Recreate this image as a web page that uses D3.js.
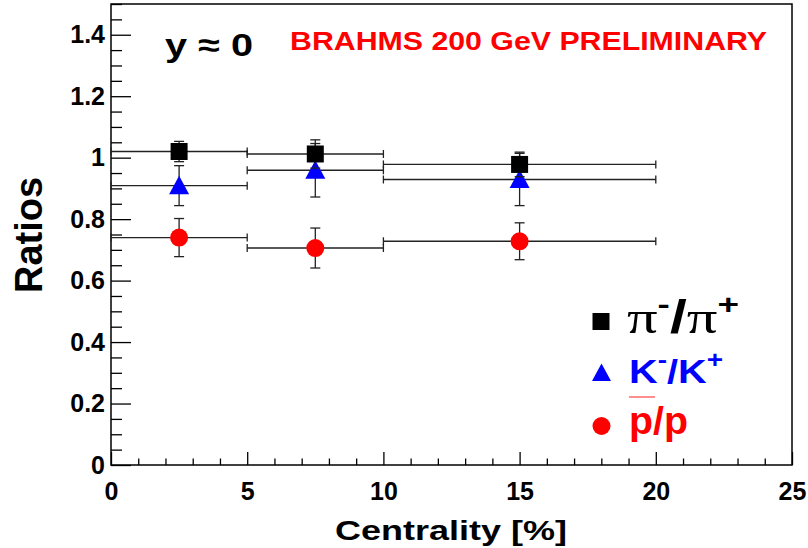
<!DOCTYPE html>
<html>
<head>
<meta charset="utf-8">
<script src="https://cdn.jsdelivr.net/npm/d3@7"></script>
<style>
  body { margin: 0; background: #fff; }
  text { font-family: "Liberation Sans", Arial, sans-serif; font-weight: bold; }
</style>
</head>
<body>
<svg id="chart" width="808" height="548"></svg>
<script>
// centrality bins
var centrality = [2.5, 7.5, 15];
var binLow = [0, 5, 10];
var binHigh = [5, 10, 20];

// ratios
var piRatio = [1.02, 1.012, 0.978];
var piErr = [0.033, 0.046, 0.04];
var kRatio = [0.909, 0.959, 0.929];
var kErr = [0.065, 0.087, 0.085];
var pRatio = [0.740, 0.706, 0.728];
var pErr = [0.062, 0.065, 0.06];

var yMajor = [0, 0.2, 0.4, 0.6, 0.8, 1, 1.2, 1.4];
var xMajor = [0, 5, 10, 15, 20, 25];

var padL = 111, padR = 792, padT = 4, padB = 465;

var x = d3.scaleLinear().domain([0, 25]).range([padL, padR]);
var y = d3.scaleLinear().domain([0, 1.5]).range([padB, padT]);

var svg = d3.select("#chart");

// minor ticks
var yMinor = d3.range(0, 1.501, 0.05).filter(function(v){ return Math.abs(v*5 - Math.round(v*5)) > 1e-6; });
var xMinor = d3.range(0, 25.01, 1).filter(function(v){ return v % 5 != 0; });

svg.append("g").attr("transform", "translate(" + padL + ",0)")
    .call(d3.axisLeft(y).tickValues(yMinor).tickSize(-11).tickFormat(""));
svg.append("g").attr("transform", "translate(0," + padB + ")")
    .call(d3.axisBottom(x).tickValues(xMinor).tickSize(-6.5).tickFormat(""));

var yAxis = svg.append("g").attr("transform", "translate(" + padL + ",0)")
    .call(d3.axisLeft(y).tickValues(yMajor).tickSize(-20).tickPadding(6)
      .tickFormat(function(d){ return d == 0 || d == 1 ? d3.format("d")(d) : d3.format(".1f")(d); }));
var xAxis = svg.append("g").attr("transform", "translate(0," + padB + ")")
    .call(d3.axisBottom(x).tickValues(xMajor).tickSize(-13).tickPadding(17).tickFormat(d3.format("d")));

svg.selectAll(".domain").remove();
svg.selectAll(".tick line").attr("stroke", "#000").attr("stroke-width", 1.3);
svg.selectAll(".tick text").attr("font-size", 25).attr("font-weight", "bold")
    .attr("font-family", "Liberation Sans").attr("fill", "#000");

// frame
svg.append("rect").attr("x", padL).attr("y", padT).attr("width", padR - padL).attr("height", padB - padT)
    .attr("fill", "none").attr("stroke", "#000").attr("stroke-width", 1.5);

// axis titles
svg.append("text").attr("x", 335).attr("y", 540)
    .attr("font-size", 28).attr("textLength", 232).attr("lengthAdjust", "spacingAndGlyphs").text("Centrality [%]");
svg.append("text").attr("transform", "translate(41.5,293) rotate(-90)")
    .attr("font-size", 39).attr("textLength", 116).attr("lengthAdjust", "spacingAndGlyphs").text("Ratios");

// labels in the plot
svg.append("text").attr("x", 165).attr("y", 56).attr("font-size", 32)
    .attr("textLength", 88).attr("lengthAdjust", "spacingAndGlyphs").text("y \u2248 0");
svg.append("text").attr("x", 290).attr("y", 50).attr("font-size", 26).attr("fill", "#ff0000")
    .attr("textLength", 477).attr("lengthAdjust", "spacingAndGlyphs").text("BRAHMS 200 GeV PRELIMINARY");

function drawSeries(vals, errs, color, shape) {
  var g = svg.append("g");
  centrality.forEach(function(c, i) {
    var yy = y(vals[i]);
    // horizontal bin width
    g.append("line").attr("x1", x(binLow[i])).attr("x2", x(binHigh[i])).attr("y1", yy).attr("y2", yy)
      .attr("stroke", "#222").attr("stroke-width", 1.3);
    [binLow[i], binHigh[i]].forEach(function(b) {
      g.append("line").attr("x1", x(b)).attr("x2", x(b)).attr("y1", yy - 4).attr("y2", yy + 4)
        .attr("stroke", "#222").attr("stroke-width", 1.3);
    });
    // vertical error
    g.append("line").attr("x1", x(c)).attr("x2", x(c)).attr("y1", y(vals[i] - errs[i])).attr("y2", y(vals[i] + errs[i]))
      .attr("stroke", "#222").attr("stroke-width", 1.3);
    [vals[i] - errs[i], vals[i] + errs[i]].forEach(function(v) {
      g.append("line").attr("x1", x(c) - 5).attr("x2", x(c) + 5).attr("y1", y(v)).attr("y2", y(v))
        .attr("stroke", "#222").attr("stroke-width", 1.3);
    });
  });
  g.selectAll("path.mark").data(centrality).enter().append("path").attr("class", "mark")
    .attr("transform", function(d, i){ return "translate(" + x(d) + "," + y(vals[i]) + ")"; })
    .attr("d", shape).attr("fill", color);
}

var squarePath = "M-8.5,-8.5H8.5V8.5H-8.5Z";
var trianglePath = "M0,-10L10,8.5L-10,8.5Z";
var circlePath = d3.symbol(d3.symbolCircle, Math.PI * 9 * 9)();

drawSeries(kRatio, kErr, "#0000ff", trianglePath);
drawSeries(piRatio, piErr, "#000000", squarePath);
drawSeries(pRatio, pErr, "#ff0000", circlePath);

// legend
var leg = svg.append("g");
leg.append("path").attr("transform", "translate(601,321.5)").attr("d", squarePath).attr("fill", "#000");
leg.append("path").attr("transform", "translate(601.5,373) scale(0.95)").attr("d", trianglePath).attr("fill", "#0000ff");
leg.append("path").attr("transform", "translate(601.5,426)").attr("d", circlePath).attr("fill", "#ff0000");

var t1 = leg.append("text").attr("x", 627).attr("y", 333).attr("font-size", 46)
    .attr("textLength", 112).attr("lengthAdjust", "spacingAndGlyphs");
t1.append("tspan").attr("font-family", "Liberation Serif").attr("font-weight", "normal").text("\u03c0");
t1.append("tspan").attr("font-size", 28).attr("dy", -19).text("-");
t1.append("tspan").attr("dy", 19).text("/");
t1.append("tspan").attr("font-family", "Liberation Serif").attr("font-weight", "normal").text("\u03c0");
t1.append("tspan").attr("font-size", 28).attr("dy", -19).text("+");

var t2 = leg.append("text").attr("x", 629).attr("y", 383).attr("font-size", 34).attr("fill", "#0000ff")
    .attr("textLength", 94).attr("lengthAdjust", "spacingAndGlyphs");
t2.append("tspan").text("K");
t2.append("tspan").attr("font-size", 24).attr("dy", -15).text("-");
t2.append("tspan").attr("dy", 15).text("/K");
t2.append("tspan").attr("font-size", 24).attr("dy", -15).text("+");

leg.append("text").attr("x", 629).attr("y", 434).attr("font-size", 39).attr("fill", "#ff0000")
    .attr("textLength", 59).attr("lengthAdjust", "spacingAndGlyphs").text("p/p");
leg.append("line").attr("x1", 629).attr("x2", 655).attr("y1", 397).attr("y2", 397)
  .attr("stroke", "#ff4444").attr("stroke-width", 1.2);
</script>
</body>
</html>
